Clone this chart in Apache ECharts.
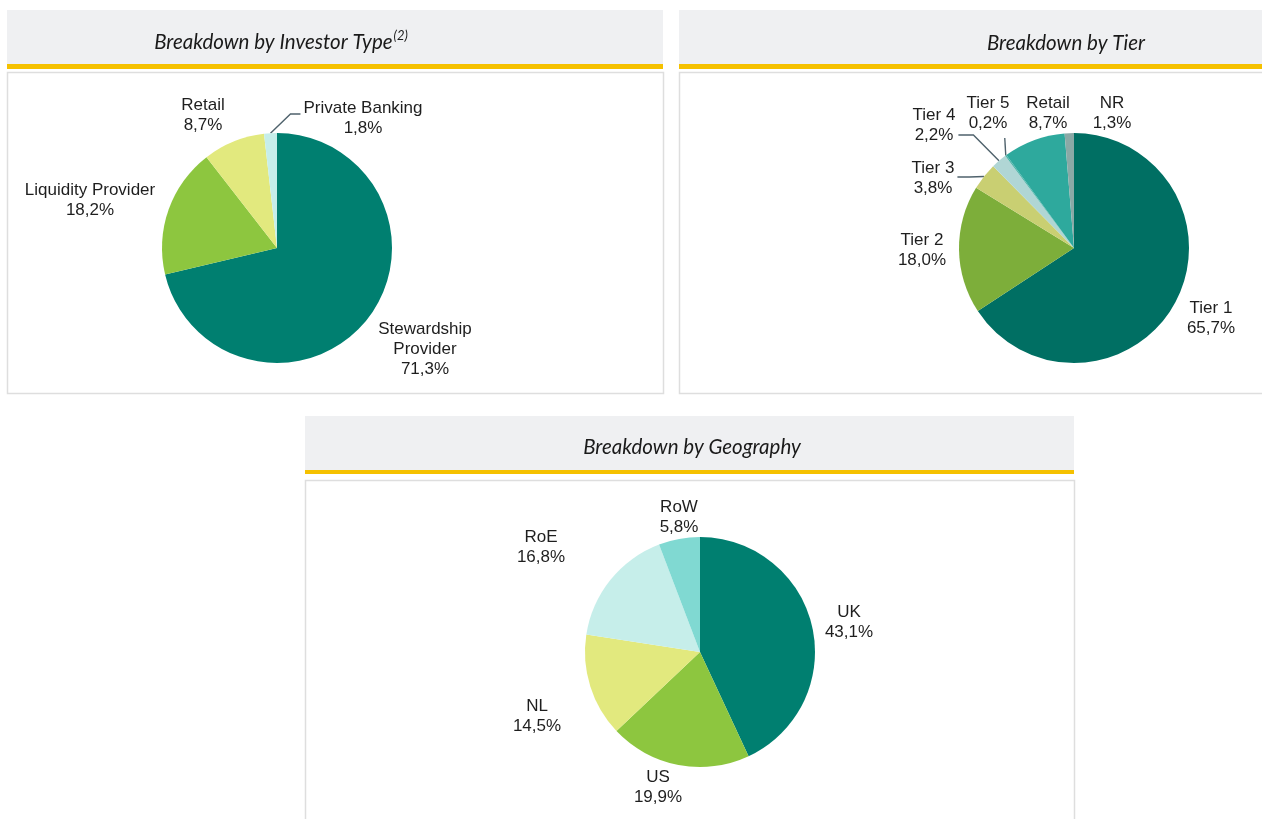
<!DOCTYPE html>
<html>
<head>
<meta charset="utf-8">
<script src="https://cdn.jsdelivr.net/npm/echarts@6/dist/echarts.min.js"></script>
<style>
  html, body { margin: 0; padding: 0; background: #fff; }
  #main { width: 1262px; height: 819px; }
</style>
</head>
<body>
<div id="main"></div>
<script>
// data
var investorNames = ['Stewardship Provider', 'Liquidity Provider', 'Retail', 'Private Banking'];
var investorValues = [71.3, 18.2, 8.7, 1.8];

var tierNames = ['Tier 1', 'Tier 2', 'Tier 3', 'Tier 4', 'Tier 5', 'Retail', 'NR'];
var tierValues = [65.7, 18.0, 3.8, 2.2, 0.2, 8.7, 1.3];

var geoNames = ['UK', 'US', 'NL', 'RoE', 'RoW'];
var geoValues = [43.1, 19.9, 14.5, 16.8, 5.8];

// colours
var investorColors = ['#007f70', '#8dc63f', '#e2e97e', '#c6eeea'];
var tierColors = ['#006f63', '#7dae3a', '#c9cf72', '#b0d6d5', '#4fb5aa', '#2ea99d', '#8aa9a6'];
var geoColors = ['#007f70', '#8dc63f', '#e2e97e', '#c6eeea', '#80d9d2'];

// layout: pie centres and label offsets from the centre
var centers = [[277, 248], [1074, 248], [700, 652]];
var R = 115;
var investorOffsets = [[148, 101], [-187, -48], [-74, -133], [86, -130]];
var tierOffsets = [[137, 70], [-152, 2], [-141, -70], [-140, -123], [-86, -135], [-26, -135], [38, -135]];
var geoOffsets = [[149, -30], [-42, 135], [-163, 64], [-159, -105], [-21, -135]];

// leader lines: which side of the label they leave from, vertical shift, elbow length
var investorLines = [null, null, null, { side: 'left', dy: -4, len: 10 }];
var tierLines = [null, null, { side: 'right', dy: -1, len: 12 }, { side: 'right', dy: 10, len: 15 }, { side: 'bottom', dy: 0, len: 0 }, null, null];
var geoLines = [null, null, null, null, null];

function fmt(v) {
  return v.toFixed(1).replace('.', ',') + '%';
}

function buildData(names, values, colors, lines) {
  return names.map(function (n, i) {
    return {
      name: n,
      value: values[i],
      itemStyle: { color: colors[i] },
      labelLine: { show: !!lines[i] }
    };
  });
}

// point on the rim at the middle of slice i
function rimPoint(c, values, i) {
  var total = values.reduce(function (a, b) { return a + b; }, 0);
  var before = 0;
  for (var k = 0; k < i; k++) before += values[k];
  var frac = (before + values[i] / 2) / total;
  var theta = Math.PI / 2 - frac * 2 * Math.PI;
  return [c[0] + R * Math.cos(theta), c[1] - R * Math.sin(theta)];
}

function pieSeries(idx, names, values, colors, lines, offsets) {
  var c = centers[idx];
  return {
    type: 'pie',
    center: c,
    radius: R,
    startAngle: 90,
    clockwise: true,
    avoidLabelOverlap: false,
    silent: true,
    animation: false,
    data: buildData(names, values, colors, lines),
    itemStyle: { borderWidth: 0 },
    label: {
      show: true,
      position: 'outside',
      fontFamily: 'Liberation Sans, Arial',
      fontSize: 17,
      lineHeight: 20,
      color: '#1e1e1e',
      align: 'center',
      formatter: function (p) {
        return p.name.replace('Stewardship ', 'Stewardship\n') + '\n' + fmt(p.value);
      }
    },
    labelLine: {
      show: false,
      length: 10,
      length2: 10,
      lineStyle: { color: '#4f626c', width: 1.4 }
    },
    labelLayout: function (p) {
      var i = p.dataIndex;
      var o = offsets[i];
      var x = c[0] + o[0], y = c[1] + o[1];
      var out = { x: x, y: y, align: 'center', verticalAlign: 'middle' };
      var ln = lines[i];
      if (ln) {
        var w = p.labelRect.width, h = p.labelRect.height;
        var a = rimPoint(c, values, i);
        var end, elbow;
        if (ln.side === 'left') {
          end = [x - w / 2 - 3, y + ln.dy];
          elbow = [end[0] - ln.len, end[1]];
        } else if (ln.side === 'right') {
          end = [x + w / 2 + 3, y + ln.dy];
          elbow = [end[0] + ln.len, end[1]];
        } else {
          end = [a[0] - 1, y + h / 2 + 5];
          elbow = [a[0] - 1, end[1]];
        }
        out.labelLinePoints = [a, elbow, end];
      }
      return out;
    }
  };
}

function header(x, y, w, h, yellowH) {
  return [
    { type: 'rect', shape: { x: x, y: y, width: w, height: h }, style: { fill: '#eff0f2' }, z: 0 },
    { type: 'rect', shape: { x: x, y: y + h, width: w, height: yellowH }, style: { fill: '#f5c100' }, z: 0 }
  ];
}

function panel(x, y, w, h) {
  return { type: 'rect', shape: { x: x + 0.5, y: y + 0.5, width: w, height: h },
    style: { fill: '#fff', stroke: '#dedede', lineWidth: 1.5 }, z: 0 };
}

var titleFont = { fontFamily: 'Lato', fontStyle: 'italic', fontWeight: 'normal', fontSize: 20.5, lineHeight: 24, color: '#1a1a1a' };

var chart = echarts.init(document.getElementById('main'), null, { renderer: 'canvas' });
chart.setOption({
  backgroundColor: '#fff',
  animation: false,
  title: [
    {
      text: '{t|Breakdown by Investor Type}{s|(2)}',
      left: 281, top: 29, padding: 0, textAlign: 'center',
      textStyle: {
        fontWeight: 'normal',
        rich: {
          t: titleFont,
          s: { fontFamily: 'Lato', fontStyle: 'italic', fontWeight: 'normal', fontSize: 13, color: '#1a1a1a', padding: [0, 0, 14, 1] }
        }
      }
    },
    {
      text: 'Breakdown by Tier',
      left: 1066, top: 31, padding: 0, textAlign: 'center',
      textStyle: titleFont
    },
    {
      text: 'Breakdown by Geography',
      left: 692, top: 435, padding: 0, textAlign: 'center',
      textStyle: titleFont
    }
  ],
  graphic: [].concat(
    header(7, 10, 656, 54, 5),
    header(679, 10, 583, 54, 5),
    header(305, 416, 769, 54, 4),
    [panel(7, 72, 656, 321), panel(679, 72, 590, 321), panel(305, 480, 769, 350)]
  ),
  series: [
    pieSeries(0, investorNames, investorValues, investorColors, investorLines, investorOffsets),
    pieSeries(1, tierNames, tierValues, tierColors, tierLines, tierOffsets),
    pieSeries(2, geoNames, geoValues, geoColors, geoLines, geoOffsets)
  ]
});
</script>
</body>
</html>
